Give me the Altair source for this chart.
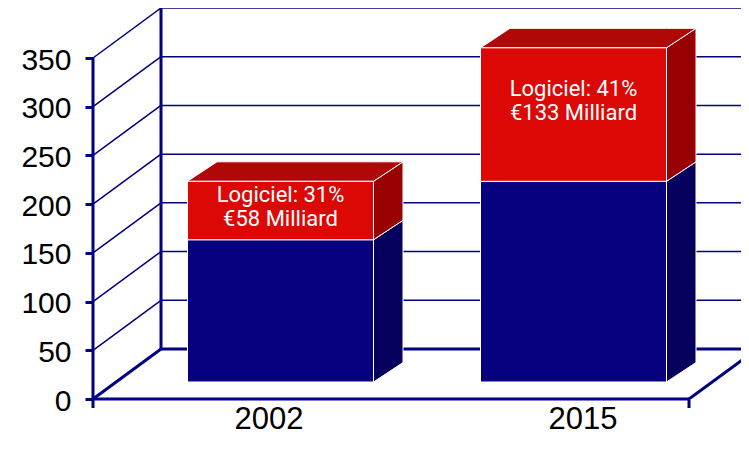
import altair as alt
import pandas as pd

# ---- data ----
years = ["2002", "2015"]
hardware = [146, 206]          # blue segment
software = [60, 137]           # red segment ("Logiciel")
label_line1 = ["Logiciel: 31%", "Logiciel: 41%"]
label_line2 = ["€58 Milliard", "€133 Milliard"]
y_ticks = [0, 50, 100, 150, 200, 250, 300, 350]

# ---- layout / projection constants (pixels) ----
W, H = 648, 391
PX = 350 / 341                 # value units per pixel
DEPTH_X = 68
DEPTH_Y = 50 * PX
FLOOR_W = 596
BAR_W = 186
BAR_X0, BAR_STEP = 187.5, 293
BAR_DX = 29.5
BAR_DY = 19.5 * PX
BAR_BASE = 17 * PX
LAB_X0, LAB_STEP = 176, 314
NAVY = "#000080"
BLUE_FRONT, BLUE_SIDE = "#07007f", "#04005c"
RED_FRONT, RED_TOP, RED_SIDE = "#dc0806", "#b00707", "#990202"
THICK, THIN = 3, 1.5
XR = W + 40

# ---- frame lines (floor, back wall, grid) ----
free_rows, clip_rows = [], []
for v in y_ticks[1:]:
    free_rows.append(dict(x=0, y=v, x2=DEPTH_X, y2=v + DEPTH_Y, w=THIN))
    clip_rows.append(dict(x=DEPTH_X, y=v + DEPTH_Y, x2=XR, y2=v + DEPTH_Y, w=THIN))
clip_rows.append(dict(x=DEPTH_X, y=DEPTH_Y, x2=XR, y2=DEPTH_Y, w=THICK))
clip_rows.append(dict(x=FLOOR_W, y=0, x2=FLOOR_W + DEPTH_X, y2=DEPTH_Y, w=THICK))
free_rows += [
    dict(x=0, y=0, x2=DEPTH_X, y2=DEPTH_Y, w=THICK),
    dict(x=DEPTH_X, y=DEPTH_Y, x2=DEPTH_X, y2=y_ticks[-1] + DEPTH_Y, w=THICK),
    dict(x=0, y=-9 * PX, x2=0, y2=y_ticks[-1], w=THICK),
    dict(x=0, y=0, x2=FLOOR_W, y2=0, w=THICK),
    dict(x=FLOOR_W, y=-9 * PX, x2=FLOOR_W, y2=0, w=THICK),
]

# ---- bar faces ----
fronts, faces, texts, xlabs = [], [], [], []
for i, yr in enumerate(years):
    c = BAR_X0 + i * BAR_STEP
    L, R = c - BAR_W / 2, c + BAR_W / 2
    hw, sw = hardware[i], software[i]
    b0, b1, b2 = BAR_BASE, BAR_BASE + hw, BAR_BASE + hw + sw
    fronts.append(dict(x=L, x2=R, y=b0, y2=b1, fill=BLUE_FRONT))
    fronts.append(dict(x=L, x2=R, y=b1, y2=b2, fill=RED_FRONT))
    # side faces (parallelograms)
    for seg, (lo, hi, col) in enumerate([(b0, b1, BLUE_SIDE), (b1, b2, RED_SIDE)]):
        fid = f"{yr}-side-{seg}"
        faces.append(dict(face=fid, x=R, y=lo, y2=hi, fill=col))
        faces.append(dict(face=fid, x=R + BAR_DX, y=lo + BAR_DY, y2=hi + BAR_DY, fill=col))
    # top face (parallelogram, drawn as a vertical band)
    tid = f"{yr}-top"
    faces.append(dict(face=tid, x=L, y=b2, y2=b2, fill=RED_TOP))
    faces.append(dict(face=tid, x=L + BAR_DX, y=b2, y2=b2 + BAR_DY, fill=RED_TOP))
    faces.append(dict(face=tid, x=R, y=b2, y2=b2 + BAR_DY, fill=RED_TOP))
    faces.append(dict(face=tid, x=R + BAR_DX, y=b2 + BAR_DY, y2=b2 + BAR_DY, fill=RED_TOP))
    ly = b2 - 0.37 * sw + 1 * PX
    texts.append(dict(x=c, y=ly, text=label_line1[i] + "\n" + label_line2[i]))
    xlabs.append(dict(x=LAB_X0 + i * LAB_STEP, y=-30 * PX, text=yr))

xs = alt.Scale(domain=[0, W], nice=False, zero=False)
ys = alt.Scale(domain=[0, H * PX], nice=False, zero=False)
yaxis = alt.Axis(values=y_ticks, domain=False, grid=False, ticks=True, tickSize=8,
                 tickWidth=3, tickColor=NAVY, labelFontSize=30, labelFont="Liberation Sans",
                 labelColor="black", labelPadding=14, labelOffset=2, title=None)


def X(f="x"):
    return alt.X(f"{f}:Q", scale=xs, axis=None)


def Y(f="y"):
    return alt.Y(f"{f}:Q", scale=ys, axis=yaxis)


free = alt.Chart(pd.DataFrame(free_rows)).mark_rule(color=NAVY, strokeCap="butt").encode(
    x=X(), x2="x2:Q", y=Y(), y2="y2:Q", strokeWidth=alt.StrokeWidth("w:Q", scale=None))
clipped = alt.Chart(pd.DataFrame(clip_rows)).mark_rule(color=NAVY, clip=True, strokeCap="butt").encode(
    x=X(), x2="x2:Q", y=Y(), y2="y2:Q", strokeWidth=alt.StrokeWidth("w:Q", scale=None))

front = alt.Chart(pd.DataFrame(fronts)).mark_rect(stroke="white", strokeWidth=1).encode(
    x=X(), x2="x2:Q", y=Y(), y2="y2:Q", fill=alt.Fill("fill:N", scale=None))
face = alt.Chart(pd.DataFrame(faces)).mark_area(orient="vertical", stroke="white", strokeWidth=1).encode(
    x=X(), y=Y(), y2="y2:Q", fill=alt.Fill("fill:N", scale=None), detail="face:N")

inner = alt.Chart(pd.DataFrame(texts)).mark_text(
    font="Roboto", fontSize=22, lineHeight=24, lineBreak="\n", color="white",
    align="center", baseline="alphabetic").encode(
    x=X(), y=Y(), text="text:N")
xlab = alt.Chart(pd.DataFrame(xlabs)).mark_text(
    font="Liberation Sans", fontSize=31, color="black", align="center", baseline="alphabetic").encode(
    x=X(), y=Y(), text="text:N")

chart = alt.layer(free, clipped, face, front, inner, xlab).properties(
    width=W, height=H, autosize="none",
    padding={"left": 85, "top": 0, "right": 0, "bottom": 42},
    background="white",
).configure_view(stroke=None)

chart.save("out.html", embed_options={"renderer": "svg", "actions": False})
